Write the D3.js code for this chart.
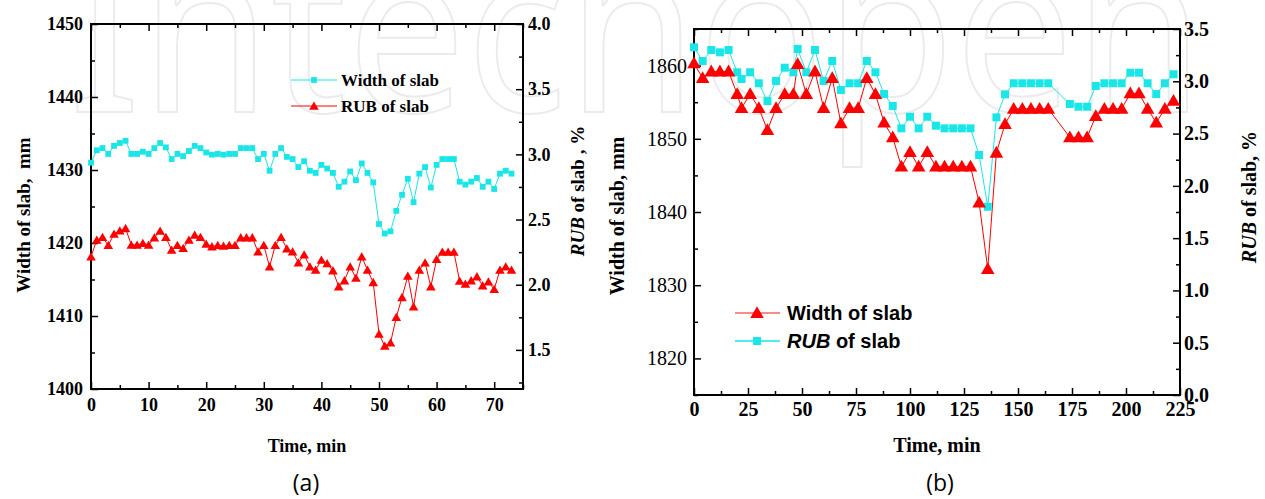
<!DOCTYPE html>
<html><head><meta charset="utf-8">
<script src="https://cdn.jsdelivr.net/npm/d3@7"></script>
<style>body{margin:0;background:#fff}</style>
</head><body>
<svg id="c" width="1265" height="499"></svg>
<script>
// ---------- Panel (a) data ----------
const timeA = [0,1,2,3,4,5,6,7,8,9,10,11,12,13,14,15,16,17,18,19,20,21,22,23,24,25,26,27,28,29,30,31,32,33,34,35,36,37,38,39,40,41,42,43,44,45,46,47,48,49,50,51,52,53,54,55,56,57,58,59,60,61,62,63,64,65,66,67,68,69,70,71,72,73];
const widthA = [1431.0,1432.7,1433.0,1432.2,1433.3,1433.7,1434.0,1432.2,1432.2,1432.5,1432.2,1433.0,1433.7,1433.1,1431.5,1432.2,1431.9,1432.6,1433.3,1433.0,1432.4,1432.1,1432.2,1432.1,1432.2,1432.2,1433.0,1433.0,1433.0,1431.5,1432.2,1429.9,1432.2,1433.0,1431.8,1431.5,1430.4,1431.2,1429.9,1429.6,1430.7,1430.2,1429.6,1427.7,1428.4,1429.8,1428.6,1430.9,1429.6,1428.3,1422.6,1421.3,1421.6,1424.4,1426.6,1428.8,1425.6,1429.5,1430.4,1427.6,1430.7,1431.5,1431.5,1431.5,1428.4,1428.0,1428.4,1428.9,1427.7,1428.4,1427.4,1429.5,1429.9,1429.5];
const rubA = [2.215,2.343,2.364,2.302,2.389,2.414,2.432,2.305,2.305,2.318,2.305,2.361,2.412,2.364,2.266,2.302,2.279,2.343,2.381,2.364,2.312,2.292,2.302,2.297,2.302,2.302,2.361,2.361,2.361,2.253,2.302,2.138,2.302,2.364,2.276,2.253,2.169,2.230,2.138,2.113,2.190,2.162,2.108,1.985,2.031,2.138,2.052,2.215,2.113,2.018,1.622,1.530,1.555,1.750,1.903,2.067,1.831,2.113,2.169,1.985,2.195,2.251,2.251,2.251,2.028,2.005,2.031,2.062,1.993,2.023,1.965,2.113,2.138,2.113];
const xTicksA = [0,10,20,30,40,50,60,70];
const xMinorA = [5,15,25,35,45,55,65,75];
const yTicksAL = [1400,1410,1420,1430,1440,1450];
const yMinorAL = [1405,1415,1425,1435,1445];
const yTicksAR = [1.5,2.0,2.5,3.0,3.5,4.0];
const yMinorAR = [1.25,1.75,2.25,2.75,3.25,3.75];

// ---------- Panel (b) data ----------
const timeB = [0,4,8,12,16,20,22,26,30,34,38,42,46,48,52,56,60,64,68,72,76,80,84,88,92,96,100,104,108,112,116,120,124,128,132,136,140,144,148,152,156,160,164,174,178,182,186,190,194,198,202,206,210,214,218,222];
const widthB = [1860.3,1858.3,1859.2,1859.2,1859.2,1856.1,1854.2,1856.1,1854.2,1851.2,1854.2,1856.1,1856.1,1860.2,1856.1,1859.2,1854.2,1858.3,1852.1,1854.2,1854.2,1858.3,1856.1,1852.2,1850.2,1846.2,1848.2,1846.2,1848.2,1846.2,1846.2,1846.2,1846.2,1846.2,1841.3,1832.2,1848.1,1852.0,1854.1,1854.1,1854.1,1854.1,1854.1,1850.2,1850.2,1850.2,1853.1,1854.1,1854.1,1854.1,1856.2,1856.2,1854.1,1852.2,1854.1,1855.2];
const rubB = [3.325,3.194,3.299,3.277,3.299,3.086,3.022,3.086,2.981,2.811,3.003,3.130,3.086,3.309,3.086,3.299,3.003,3.194,2.917,2.981,2.981,3.194,3.086,2.878,2.764,2.550,2.661,2.550,2.661,2.575,2.550,2.550,2.550,2.550,2.295,1.800,2.655,2.875,2.981,2.981,2.981,2.981,2.981,2.783,2.757,2.757,2.955,2.981,2.981,2.981,3.082,3.082,2.981,2.878,2.981,3.067];
const xTicksB = [0,25,50,75,100,125,150,175,200,225];
const xMinorB = [12.5,37.5,62.5,87.5,112.5,137.5,162.5,187.5,212.5];
const yTicksBL = [1820,1830,1840,1850,1860];
const yMinorBL = [1815,1825,1835,1845,1855,1865];
const yTicksBR = [0,0.5,1.0,1.5,2.0,2.5,3.0,3.5];
const yMinorBR = [0.25,0.75,1.25,1.75,2.25,2.75,3.25];

const CYAN = "#1ae6e8", RED = "#ff0000";
const SERIF = "'Liberation Serif','Times New Roman',serif";
const SANS = "'Liberation Sans',Arial,sans-serif";

const svg = d3.select("#c");

// watermark (faint outlined publisher mark, cut off at the top edge as in the reference)
svg.append("text").attr("x", 69).attr("y", 112)
  .attr("font-family", "'Noto Sans',sans-serif").attr("font-size", 230)
  .attr("textLength", 1135).attr("lengthAdjust", "spacingAndGlyphs")
  .attr("fill", "none").attr("stroke", "#ebebeb").attr("stroke-width", 2)
  .text("Intechopen");

function drawAxis(g, maker, scale, transform, major, minor, fmt, opts) {
  const a = g.append("g").attr("transform", transform)
    .call(maker(scale).tickValues(major).tickFormat(fmt).tickSize(-7).tickPadding(opts.pad));
  a.select(".domain").remove();
  a.selectAll("line").attr("stroke", "#000").attr("stroke-width", 1.5);
  a.selectAll("text").attr("font-family", SERIF).attr("font-weight", opts.weight)
    .attr("font-size", opts.size).attr("fill", "#000");
  if (opts.noLabels) a.selectAll("text").remove();
  const m = g.append("g").attr("transform", transform)
    .call(maker(scale).tickValues(minor).tickFormat("").tickSize(-4));
  m.select(".domain").remove();
  m.selectAll("line").attr("stroke", "#000").attr("stroke-width", 1.5);
  return a;
}

function triangle(size) { return d3.symbol().type(d3.symbolTriangle).size(size)(); }
function square(size) { return d3.symbol().type(d3.symbolSquare).size(size)(); }

// ================= Panel (a) =================
{
  const g = svg.append("g");
  const x = d3.scaleLinear().domain([0, 75]).range([91, 523]);
  const yL = d3.scaleLinear().domain([1400, 1450]).range([389, 24]);
  const yR = d3.scaleLinear().domain([1.2, 4.0]).range([389, 24]);
  const [x0, x1] = x.range(), [y0, y1] = yL.range();

  drawAxis(g, d3.axisBottom, x, `translate(0,${y0})`, xTicksA, xMinorA, d3.format("d"), {pad: 9, weight: "bold", size: 18});
  drawAxis(g, d3.axisTop, x, `translate(0,${y1})`, xTicksA, xMinorA, d3.format("d"), {pad: 9, weight: "bold", size: 18, noLabels: true});
  drawAxis(g, d3.axisLeft, yL, `translate(${x0},0)`, yTicksAL, yMinorAL, d3.format("d"), {pad: 8, weight: "bold", size: 18});
  drawAxis(g, d3.axisRight, yR, `translate(${x1},0)`, yTicksAR, yMinorAR, d3.format(".1f"), {pad: 5, weight: "bold", size: 18});

  g.append("rect").attr("x", x0).attr("y", y1).attr("width", x1 - x0).attr("height", y0 - y1)
    .attr("fill", "none").attr("stroke", "#000").attr("stroke-width", 2);

  const lineW = d3.line().x((d, i) => x(timeA[i])).y(d => yL(d));
  const lineR = d3.line().x((d, i) => x(timeA[i])).y(d => yR(d));
  g.append("path").attr("d", lineW(widthA)).attr("fill", "none").attr("stroke", CYAN).attr("stroke-width", 1);
  g.append("path").attr("d", lineR(rubA)).attr("fill", "none").attr("stroke", RED).attr("stroke-width", 1);
  g.selectAll(".sqA").data(widthA).join("path")
    .attr("transform", (d, i) => `translate(${x(timeA[i])},${yL(d)})`)
    .attr("d", square(34)).attr("fill", CYAN);
  g.selectAll(".trA").data(rubA).join("path")
    .attr("transform", (d, i) => `translate(${x(timeA[i])},${yR(d) + 1})`)
    .attr("d", triangle(40)).attr("fill", RED);

  // legend
  const lg = g.append("g");
  lg.append("line").attr("x1", 291).attr("x2", 337).attr("y1", 80).attr("y2", 80).attr("stroke", CYAN).attr("stroke-width", 1);
  lg.append("path").attr("transform", "translate(314,80)").attr("d", square(34)).attr("fill", CYAN);
  lg.append("text").attr("x", 341).attr("y", 86).attr("font-family", SERIF).attr("font-weight", "bold").attr("font-size", 17).text("Width of slab");
  lg.append("line").attr("x1", 291).attr("x2", 337).attr("y1", 106).attr("y2", 106).attr("stroke", RED).attr("stroke-width", 1);
  lg.append("path").attr("transform", "translate(314,107)").attr("d", triangle(40)).attr("fill", RED);
  lg.append("text").attr("x", 341).attr("y", 112).attr("font-family", SERIF).attr("font-weight", "bold").attr("font-size", 17).text("RUB of slab");

  // titles
  g.append("text").attr("x", 307).attr("y", 452).attr("text-anchor", "middle")
    .attr("font-family", SERIF).attr("font-weight", "bold").attr("font-size", 18).text("Time, min");
  g.append("text").attr("transform", "translate(30,215) rotate(-90)").attr("text-anchor", "middle")
    .attr("font-family", SERIF).attr("font-weight", "bold").attr("font-size", 19)
    .attr("xml:space", "preserve").text("Width of slab,  mm");
  const rt = g.append("text").attr("transform", "translate(584,191) rotate(-90)").attr("text-anchor", "middle")
    .attr("font-family", SERIF).attr("font-weight", "bold").attr("font-size", 19);
  rt.append("tspan").attr("font-style", "italic").text("RUB");
  rt.append("tspan").text(" of slab , %");
  g.append("text").attr("x", 306).attr("y", 491).attr("text-anchor", "middle")
    .attr("font-family", "'Open Sans','Noto Sans',sans-serif").attr("font-size", 23).text("(a)");
}

// ================= Panel (b) =================
{
  const g = svg.append("g");
  const x = d3.scaleLinear().domain([0, 225]).range([694, 1180]);
  const yL = d3.scaleLinear().domain([1815, 1865]).range([395, 29]);
  const yR = d3.scaleLinear().domain([0, 3.5]).range([395, 29]);
  const [x0, x1] = x.range(), [y0, y1] = yL.range();

  drawAxis(g, d3.axisBottom, x, `translate(0,${y0})`, xTicksB, xMinorB, d3.format("d"), {pad: 7, weight: "bold", size: 20});
  drawAxis(g, d3.axisTop, x, `translate(0,${y1})`, xTicksB, xMinorB, d3.format("d"), {pad: 7, weight: "bold", size: 20, noLabels: true});
  drawAxis(g, d3.axisLeft, yL, `translate(${x0},0)`, yTicksBL, yMinorBL, d3.format("d"), {pad: 7, weight: "normal", size: 20});
  drawAxis(g, d3.axisRight, yR, `translate(${x1},0)`, yTicksBR, yMinorBR, d3.format(".1f"), {pad: 4, weight: "bold", size: 20});

  g.append("rect").attr("x", x0).attr("y", y1).attr("width", x1 - x0).attr("height", y0 - y1)
    .attr("fill", "none").attr("stroke", "#000").attr("stroke-width", 2);

  const lineW = d3.line().x((d, i) => x(timeB[i])).y(d => yL(d));
  const lineR = d3.line().x((d, i) => x(timeB[i])).y(d => yR(d));
  g.append("path").attr("d", lineR(rubB)).attr("fill", "none").attr("stroke", CYAN).attr("stroke-width", 1);
  g.append("path").attr("d", lineW(widthB)).attr("fill", "none").attr("stroke", RED).attr("stroke-width", 1);
  g.selectAll(".sqB").data(rubB).join("path")
    .attr("transform", (d, i) => `translate(${x(timeB[i])},${yR(d)})`)
    .attr("d", square(64)).attr("fill", CYAN);
  g.selectAll(".trB").data(widthB).join("path")
    .attr("transform", (d, i) => `translate(${x(timeB[i])},${yL(d) + 1})`)
    .attr("d", triangle(80)).attr("fill", RED);

  // legend
  const lg = g.append("g");
  lg.append("line").attr("x1", 735).attr("x2", 780).attr("y1", 313).attr("y2", 313).attr("stroke", "#ff6060").attr("stroke-width", 1.5);
  lg.append("path").attr("transform", "translate(757,314)").attr("d", triangle(80)).attr("fill", RED);
  lg.append("text").attr("x", 787).attr("y", 320).attr("font-family", SANS).attr("font-weight", "bold").attr("font-size", 20).text("Width of slab");
  lg.append("line").attr("x1", 735).attr("x2", 780).attr("y1", 341).attr("y2", 341).attr("stroke", CYAN).attr("stroke-width", 1.5);
  lg.append("path").attr("transform", "translate(757,341)").attr("d", square(64)).attr("fill", CYAN);
  const lt = lg.append("text").attr("x", 787).attr("y", 348).attr("font-family", SANS).attr("font-weight", "bold").attr("font-size", 20);
  lt.append("tspan").attr("font-style", "italic").text("RUB");
  lt.append("tspan").text(" of slab");

  // titles
  g.append("text").attr("x", 937).attr("y", 452).attr("text-anchor", "middle")
    .attr("font-family", SERIF).attr("font-weight", "bold").attr("font-size", 20).text("Time, min");
  g.append("text").attr("transform", "translate(624,216) rotate(-90)").attr("text-anchor", "middle")
    .attr("font-family", SERIF).attr("font-weight", "bold").attr("font-size", 20).text("Width of slab, mm");
  const rt = g.append("text").attr("transform", "translate(1256,197) rotate(-90)").attr("text-anchor", "middle")
    .attr("font-family", SERIF).attr("font-weight", "bold").attr("font-size", 20);
  rt.append("tspan").attr("font-style", "italic").text("RUB");
  rt.append("tspan").text(" of slab, %");
  g.append("text").attr("x", 940).attr("y", 491).attr("text-anchor", "middle")
    .attr("font-family", "'Open Sans','Noto Sans',sans-serif").attr("font-size", 23).text("(b)");
}
</script>
</body></html>
